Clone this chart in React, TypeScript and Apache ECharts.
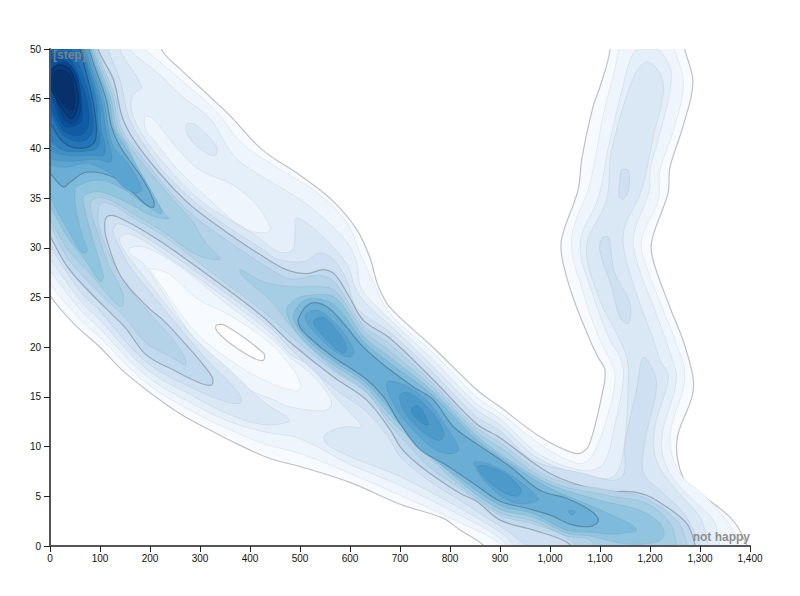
import React, { useEffect, useRef } from "react";
import * as echarts from "echarts";

type Pt = [number, number];

const xTicks = [0, 1400, 100];
const yTicks = [0, 50, 5];
const xLabel = "not happy";
const yLabel = "[step]";

const L0: Pt[] = [[-30,28],[0,25.2],[47,22.4],[100,20],[140,17.9],[193,15.7],[260,13.3],[307,12],[373,10.3],[440,8.8],[500,8],[600,6.4],[700,4.2],[786,2.8],[820,1.6],[866,0.1],[885,-1.5],[1395,-1.5],[1386,0.9],[1360,2.9],[1300,5.3],[1266,6.9],[1254,10.7],[1284,15],[1286,17],[1266,20.7],[1240,24],[1206,28.8],[1204,30.8],[1236,35.5],[1240,38.1],[1266,42.2],[1286,46.6],[1270,49.9],[1262,52],[1115,52],[1120,49.9],[1100,46.2],[1086,44.2],[1064,39.1],[1056,35.8],[1024,31.1],[1024,29],[1046,25],[1080,20.7],[1096,19],[1110,17.7],[1106,15.7],[1080,10.4],[1064,9.4],[1044,9.4],[980,11],[900,14],[854,15.7],[766,20],[680,24],[656,26.2],[640,29],[614,31.8],[566,34.7],[500,37.3],[426,39.8],[360,43.3],[320,45.2],[260,48],[226,49.7],[205,52],[-30,52]];
const L1: Pt[] = [[-30,29],[0,26.4],[62,22.7],[93,21.3],[193,16.4],[293,13.3],[360,11.7],[427,10.3],[500,9.3],[600,7.3],[700,5.1],[820,2.35],[900,0.26],[925,-1.5],[1385,-1.5],[1377,0.1],[1367,1.6],[1313,4.9],[1260,7.3],[1240,11],[1270,17],[1250,20.7],[1227,23.7],[1193,28.1],[1183,30.8],[1217,34.8],[1220,37.8],[1247,41.8],[1267,46.5],[1250,49.9],[1240,52],[1130,52],[1137,49.9],[1107,43.5],[1080,36.5],[1043,30.8],[1067,25.4],[1100,20.7],[1122,18.5],[1130,17],[1120,14],[1087,9.3],[1060,8.3],[987,10],[900,13.4],[853,15],[767,19.4],[680,23.4],[647,26.5],[620,29.5],[593,32.6],[533,35.6],[447,38.3],[380,40.7],[333,43.7],[260,47],[220,48.7],[185,50.3],[175,52],[-30,52]];
const L2: Pt[] = [[-30,30],[0,27.7],[62,23.7],[93,22.2],[193,17.1],[293,14.1],[360,12.5],[427,11.5],[500,10.8],[600,8.2],[700,6.1],[820,3.1],[900,0.8],[945,-1.5],[1348,-1.5],[1340,0.1],[1327,2.6],[1287,4.6],[1240,7.3],[1223,10.6],[1253,16.7],[1243,19],[1210,23.7],[1177,28.1],[1167,31.1],[1199,35.8],[1200,37.8],[1220,41.5],[1243,47.2],[1225,49.5],[1200,50.2],[1175,50],[1160,48.9],[1147,46.5],[1117,40.2],[1097,35.1],[1060,30.4],[1087,25.1],[1120,20.7],[1140,19],[1147,17],[1130,12.3],[1107,8.3],[1067,7.6],[980,9.2],[900,12.8],[853,14.3],[767,18.7],[680,22.8],[623,25.9],[613,28.6],[593,30.6],[540,33.3],[487,35.3],[420,37.3],[367,39.3],[320,43],[260,45.4],[220,47.4],[153,50.3],[145,52],[-30,52]];
const L3: Pt[] = [[-30,31],[0,28.9],[62,24.6],[93,23.1],[193,17.8],[293,14.9],[360,13.2],[427,12.2],[478,12.5],[473,13],[427,14.5],[360,17.7],[293,20.7],[227,24.6],[180,27.6],[145,30],[140,31],[160,31.4],[227,29.4],[347,25.1],[440,21.5],[480,19.3],[520,18.1],[567,15.2],[600,13.4],[623,12],[590,12],[550,11.2],[553,10.3],[600,9],[650,8],[700,7],[820,3.8],[900,1.4],[975,-1.5],[1325,-1.5],[1317,0.1],[1300,2.9],[1253,5.6],[1213,8.6],[1210,12],[1237,17],[1220,18.7],[1207,20.7],[1160,27.4],[1147,31.5],[1183,35.8],[1207,41.2],[1227,46.5],[1197,48.7],[1170,47.5],[1123,39.8],[1113,34.8],[1073,30.1],[1100,24.7],[1140,20.7],[1153,19],[1157,17.4],[1147,9.6],[1127,7],[1080,7],[980,8.7],[900,12.2],[853,13.7],[767,18],[680,22.2],[640,24],[613,25.7],[593,28.4],[540,31.4],[493,33],[490,31.4],[485,29.8],[457,29.6],[407,31.4],[360,32.8],[300,34.8],[233,38.2],[187,41.2],[163,43.8],[167,45.4],[183,46.2],[140,49.9],[135,52],[-30,52]];
const L4: Pt[] = [[-30,33],[0,30.2],[62,25.5],[93,24],[193,18.5],[293,15.7],[360,14.4],[383,14.5],[373,15.7],[320,18.4],[260,21.9],[200,25.6],[160,28.1],[130,31],[126,31.8],[134,32.4],[160,32],[227,29.9],[347,25.6],[440,22],[480,19.9],[567,15.9],[633,13.5],[680,10.7],[700,9],[760,6.5],[820,4.6],[900,2],[1015,-1.5],[1305,-1.5],[1300,0.1],[1267,3.3],[1220,5.6],[1187,7.3],[1190,10.6],[1213,16.4],[1187,19],[1173,15.7],[1150,10.3],[1148,7.3],[1127,6.6],[1067,7.3],[967,8.6],[900,11.6],[853,13],[767,17.4],[680,21.5],[613,24],[593,26.8],[567,28.8],[540,29.5],[507,28.6],[453,28.9],[427,29.8],[347,32.4],[285,34.8],[225,37.8],[200,39.5],[160,42.8],[140,46.9],[117,49.9],[110,52],[-30,52]];
const L5: Pt[] = [[-30,34],[2,31],[36,28],[82,25.4],[122,23.4],[150,22],[193,19.2],[247,17.7],[300,16.4],[323,16.2],[325,16.9],[307,18.2],[273,20.2],[227,22.7],[196,24],[142,27.1],[112,31.1],[110,32.6],[116,33.2],[136,33.1],[216,30.8],[347,26.1],[427,23],[480,20.5],[567,17],[633,14.7],[680,11.7],[700,10],[727,8.6],[760,7.3],[820,5.3],[853,4.5],[900,2.6],[967,1.6],[1033,0.4],[1075,-1.5],[1295,-1.5],[1290,0.1],[1273,2.3],[1213,4.6],[1173,5.4],[1100,5.6],[1000,7.3],[900,10.9],[853,12.3],[767,16.7],[680,20.9],[627,22.7],[597,25.2],[570,27.3],[547,27.8],[513,27.4],[473,27.8],[427,29.1],[347,31.8],[270,34.8],[187,39.5],[147,42.8],[127,46.9],[97,49.9],[90,52],[-30,52]];
const L6: Pt[] = [[-30,35],[0,32.3],[36,28.9],[82,26.3],[122,24.3],[150,23],[193,20.4],[247,18.9],[270,18.2],[270,18.9],[247,20.7],[207,23],[160,25.75],[127,28.4],[100,31.8],[96,33.4],[103,34.5],[130,34.2],[160,33.2],[227,31.2],[347,26.6],[427,23.6],[480,21.2],[567,17.6],[633,15.4],[680,12.2],[727,9.6],[760,7.9],[820,5.8],[900,3.1],[967,2.2],[1033,0.9],[1085,-1.5],[1276,-1.5],[1270,0.9],[1253,2.6],[1187,4.9],[1120,5.6],[1000,6.9],[900,10.4],[853,11.9],[767,16.3],[680,20.3],[627,22.2],[570,26.5],[540,27.2],[480,26.9],[427,28.3],[347,31],[270,34],[178,39.5],[143,42],[132,45],[93,50],[88,52],[-30,52]];
const L7a: Pt[] = [[-30,36],[1,32.8],[36,29.8],[82,27.3],[136,24.2],[146,24.2],[146,25.4],[116,28.4],[96,31.4],[80,34.2],[90,35],[120,34.8],[160,33.6],[227,31.6],[293,29.3],[339,28.8],[335,29.3],[313,30.4],[287,32.5],[247,34.8],[170,39.5],[138,42],[127,45],[89.5,50],[85,52],[-30,52]];
const L7b: Pt[] = [[380,27.8],[427,26.6],[480,26.1],[533,26.1],[570,25.7],[627,21.7],[680,19.6],[767,15.9],[853,11.5],[900,9.9],[1000,6.5],[1113,5.1],[1193,4.3],[1240,2.3],[1251,0.6],[1255,-1.5],[1105,-1.5],[1080,0.6],[1033,1],[967,2.5],[900,3.35],[820,6.1],[727,10.5],[680,12.7],[627,15.8],[567,17.8],[480,22.2],[447,24.4],[413,25.9],[385,27.2]];
const L8a: Pt[] = [[-30,37],[0,34.2],[36,31],[70,28.8],[100,26.6],[106,26.8],[106,27.4],[82,31.5],[66,34.8],[72,35.4],[103,35.6],[160,34.4],[200,33.3],[237,32.9],[227,33.6],[180,37.5],[155,40.2],[133,42],[122,45],[86,50],[82,52],[-30,52]];
const L8b: Pt[] = [[473,23.7],[487,24.7],[513,25.2],[570,25],[627,21.1],[680,19],[767,15.5],[853,11.1],[920,8.6],[1000,6.2],[1100,4.6],[1180,3.6],[1220,2.3],[1228,1.1],[1213,0.4],[1153,0.2],[1080,1],[1033,1.3],[967,2.9],[900,3.7],[820,6.5],[727,10.9],[680,13.2],[627,16.2],[567,18.2],[520,20],[490,21.7]];
const L9a: Pt[] = [[-30,38],[0,35.4],[10,34.1],[36,31.8],[62,29.6],[72,29.5],[74,29.9],[66,31],[52,33.8],[50,35.5],[54,36.2],[100,36.8],[147,35.9],[180,34.7],[222,33.4],[222,33.9],[200,36],[150,40.2],[128,42],[117,45],[82,50],[78,52],[-30,52]];
const L9b: Pt[] = [[487,23.2],[505,24.6],[530,24.9],[570,24.2],[627,20.6],[680,18.4],[767,15.1],[853,10.7],[920,8.3],[1000,5.8],[1093,3.8],[1173,1.7],[1127,1.2],[1080,1.4],[1033,1.6],[967,3.25],[900,4.1],[820,6.8],[733,10.2],[680,13.7],[627,16.6],[567,18.6],[520,20.5],[495,22]];
const L10a: Pt[] = [[-30,39],[0,37.5],[27,36.1],[40,36.6],[73,37.6],[127,37.1],[167,35.5],[193,34.3],[207,34.1],[207,34.8],[187,36.8],[140,40.2],[123,42.2],[112,45],[78,50],[74,52],[-30,52]];
const L10b: Pt[] = [[497,22.9],[520,24.4],[553,24.1],[587,22.4],[627,20],[673,18],[727,16],[767,14.7],[807,12],[853,10.3],[920,8],[980,5.6],[1033,4.8],[1080,3.6],[1097,2.6],[1083,2],[1047,2.1],[1000,3.1],[953,3.8],[900,4.5],[847,6.3],[787,8.3],[740,9.7],[700,12.3],[667,15],[627,17],[567,19],[520,20.9],[500,22]];
const L11a: Pt[] = [[-30,39.5],[0,38.4],[33,38.1],[73,38.5],[120,37.5],[147,36.1],[173,35.5],[183,35.9],[160,38.2],[127,40.2],[117,42],[107,45],[75,50],[71,52],[-30,52]];
const L11b: Pt[] = [[510,23.2],[537,23.7],[580,21.9],[607,19.7],[599,19],[567,19.7],[527,21.6]];
const L11c: Pt[] = [[673,16.4],[693,16.5],[747,15],[793,12],[817,9.8],[807,9.3],[773,9.6],[720,12],[687,14.3]];
const L11d: Pt[] = [[847,8.3],[867,8.4],[920,7.2],[977,4.8],[967,4.4],[933,4.3],[887,5.6]];
const L11e: Pt[] = [[1037,3.5],[1043,3.6],[1051,3.4],[1043,3.1]];
const L12a: Pt[] = [[-30,40],[0,39],[40,38.7],[93,38.9],[120,38.6],[124,39.2],[113,41.5],[102,45],[71,50],[68,52],[-30,52]];
const L12b: Pt[] = [[527,22.6],[547,23],[573,21.7],[594,19.9],[586,19.4],[560,20.4],[535,21.8]];
const L12c: Pt[] = [[700,15.2],[720,15.4],[767,13.3],[788,11.2],[777,10.6],[740,11.7],[707,13.7]];
const L12d: Pt[] = [[855,8],[875,8],[913,7.2],[943,5.6],[933,5],[900,5.6],[867,7]];
const L13a: Pt[] = [[-30,41],[0,39.8],[33,39.3],[87,39.3],[107,39.3],[110,40.4],[103,41.8],[97,45],[67,50],[64,52],[-30,52]];
const L13b: Pt[] = [[723,13.8],[737,14.1],[757,12.3],[750,12.2],[730,13]];
const L14: Pt[] = [[-30,42],[0,40.8],[27,39.8],[67,39.7],[93,40],[100,41],[97,42],[92,45],[64,50],[60,52],[-30,52]];
const L15: Pt[] = [[-30,44],[0,42.5],[27,40.6],[60,40],[87,40.5],[93,41.8],[87,44.5],[73,47.5],[60,50],[55,52],[-30,52]];
const L16: Pt[] = [[-30,45],[0,43.5],[27,41.3],[60,40.7],[80,41.2],[87,42.2],[79,45.2],[60,48.2],[43,49.9],[40,52],[-30,52]];
const L17: Pt[] = [[-20,46],[0,44.2],[27,41.8],[57,41.3],[75,42],[77,43.8],[70,45.5],[50,48.2],[30,49.4],[0,49.5],[-20,49]];
const L18: Pt[] = [[-20,47],[0,45.5],[27,42.3],[47,42.2],[63,42.8],[63,44.7],[57,46.9],[40,48.5],[20,49],[0,48.9],[-20,48.5]];
const L19: Pt[] = [[-20,47],[0,46.2],[27,43],[47,42.5],[60,43.5],[60,45.4],[50,47.7],[27,48.7],[0,48],[-20,47.5]];
const L20: Pt[] = [[3,47],[7,48.1],[23,48.4],[43,47.7],[57,45.2],[53,43.8],[43,43],[27,43.8],[7,45.5],[2,46]];
const L21: Pt[] = [[7,46.9],[10,47.7],[23,47.9],[40,47.4],[50,45.2],[47,44],[37,43.9],[20,44.9],[7,46]];
// Low-density basins inside the contours, and small rises inside them.
const basinWhite: Pt[] = [[333,22.2],[350,22.2],[427,19.4],[427,18.7],[407,18.9],[360,20.4],[333,21.7]];
const basinL1: Pt[] = [[200,27.9],[240,27.3],[293,24.9],[360,23.2],[440,20.4],[487,17.7],[502,16],[490,15.6],[427,16.7],[360,18.7],[293,21.4],[247,24.4],[207,27.3]];
const basinL2: Pt[] = [[160,30],[193,30],[260,28.1],[347,24.6],[440,21],[480,19],[520,17.4],[553,15.5],[563,14.2],[547,13.6],[480,14],[447,14.7],[387,16],[327,18.4],[280,21.4],[227,25.4],[187,28.4],[160,29.4]];
const basinUpper: Pt[] = [[190,43.2],[205,43],[260,39.7],[300,37.8],[367,36.3],[413,34.3],[440,32.1],[433,31.5],[387,32],[307,35.4],[253,38],[205,41],[192,41.8]];
const riseUpper: Pt[] = [[273,42.4],[290,42.4],[333,40.2],[330,39.3],[307,39.7],[277,41.2]];
const riseArmA: Pt[] = [[1143,37.8],[1157,37.8],[1157,35.8],[1147,34.9],[1138,35.1],[1140,36.8]];
const riseArmB: Pt[] = [[1103,30.9],[1117,31.1],[1123,29.1],[1130,27.4],[1160,24.4],[1157,22.4],[1140,23],[1123,26.1],[1100,29.6]];

// [contour level of the outline, level of the fill, outline]
const contours: [number, number, Pt[]][] = [
  [0, 0, L0], [1, 1, L1], [2, 2, L2],
  [2, 1, basinL2], [1, 0, basinL1], [0, -1, basinWhite],
  [2, 1, basinUpper], [3, 3, riseUpper],
  [3, 3, L3], [4, 4, riseArmA], [4, 4, riseArmB], [4, 4, L4], [5, 5, L5], [6, 6, L6],
  [7, 7, L7a], [7, 7, L7b], [8, 8, L8a], [8, 8, L8b], [9, 9, L9a], [9, 9, L9b],
  [10, 10, L10a], [10, 10, L10b], [11, 11, L11a], [11, 11, L11b], [11, 11, L11c], [11, 11, L11d], [11, 11, L11e],
  [12, 12, L12a], [12, 12, L12b], [12, 12, L12c], [12, 12, L12d], [13, 13, L13a], [13, 13, L13b],
  [14, 14, L14], [15, 15, L15], [16, 16, L16], [17, 17, L17], [18, 18, L18], [19, 19, L19], [20, 20, L20], [21, 21, L21],
];

const levelColors = ["#f7fbff","#eff5fc","#e5eff9","#dae8f6","#cee0f2","#c1d9ee","#b4d3e9","#a5cee5","#91c4df","#7dbadb","#6aaed6","#5ba3d0","#4d99ca","#3f8fc5","#3181bd","#2474b7","#1967ad","#105ba4","#0a4f98","#08458a","#083b7c","#08306b"];

export default function App() {
  const ref = useRef<HTMLDivElement>(null);
  useEffect(() => {
    document.body.style.margin = "0";
    document.body.style.overflow = "hidden";
    const chart = echarts.init(ref.current!, null, { renderer: "svg" });
    const axisBase = {
      z: 5,
      axisLine: { show: true, onZero: false, lineStyle: { color: "#555", width: 2 } },
      axisTick: { show: true, length: 6, lineStyle: { color: "#222", width: 1 } },
      splitLine: { show: false },
    };
    const labelFont = { color: "#111", fontSize: 10, fontFamily: "Liberation Sans, Arial, sans-serif" };
    chart.setOption({
      animation: false,
      backgroundColor: "#fff",
      grid: { left: 50, right: 50, top: 49, bottom: 50, containLabel: false },
      xAxis: {
        ...axisBase,
        type: "value",
        min: xTicks[0],
        max: xTicks[1],
        interval: xTicks[2],
        axisLabel: {
          ...labelFont,
          margin: 7,
          showMinLabel: true,
          showMaxLabel: true,
          formatter: (v: number) => v.toLocaleString("en-US"),
        },
      },
      yAxis: {
        ...axisBase,
        type: "value",
        min: yTicks[0],
        max: yTicks[1],
        interval: yTicks[2],
        axisLabel: { ...labelFont, margin: 9, showMinLabel: true, showMaxLabel: true },
      },
      series: [
        {
          type: "custom",
          coordinateSystem: "cartesian2d",
          clip: true,
          silent: true,
          z: 1,
          data: contours.map(() => [0, 0]),
          renderItem: (params: any, api: any) => {
            const [outline, fill, ring] = contours[params.dataIndex];
            const bold = outline % 5 === 0;
            return {
              type: "polygon",
              shape: { points: ring.map((p) => api.coord(p)), smooth: 0.35 },
              style: {
                fill: fill < 0 ? "#ffffff" : levelColors[fill],
                stroke: bold ? "rgba(0,0,0,0.24)" : "rgba(0,0,0,0.16)",
                lineWidth: bold ? 1.2 : 0.4,
              },
            };
          },
        },
      ],
      graphic: [
        {
          type: "text",
          z: 100,
          x: 53,
          y: 55,
          style: { text: yLabel, fill: "rgba(136,136,136,0.85)", font: "bold 12px Liberation Sans, Arial, sans-serif", textAlign: "left", textVerticalAlign: "middle" },
        },
        {
          type: "text",
          z: 100,
          x: 750,
          y: 537,
          style: { text: xLabel, fill: "rgba(136,136,136,0.95)", font: "bold 12px Liberation Sans, Arial, sans-serif", textAlign: "right", textVerticalAlign: "middle" },
        },
      ],
    });
    return () => chart.dispose();
  }, []);
  return <div ref={ref} style={{ position: "absolute", left: 0, top: 0, width: 800, height: 596 }} />;
}
